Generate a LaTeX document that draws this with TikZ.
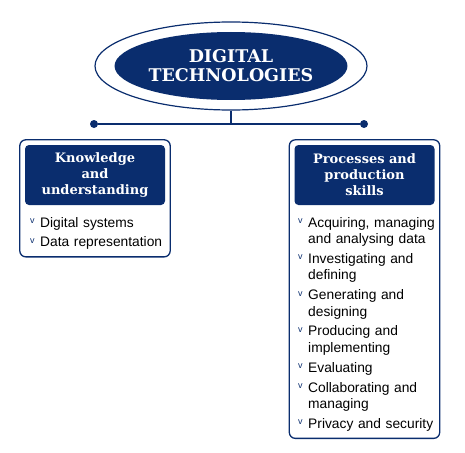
\documentclass[tikz,border=0pt]{standalone}
\usepackage{fontspec}
\setmainfont{Liberation Sans}
\newfontfamily\slabfont{DejaVu Serif}
\usetikzlibrary{shapes.geometric,positioning,fit}
\definecolor{navy}{RGB}{10,45,110}
\newcommand\chev{\raisebox{3.5pt}{\textcolor{navy}{\fontsize{9}{9}\selectfont v}}}
\newcommand\bul[1]{\par\noindent\hangindent=10pt\hangafter=1\makebox[10pt][l]{\chev}#1}

\begin{document}
\begin{tikzpicture}[x=1pt,y=-1pt,
  ring/.style={ellipse,draw=navy,line width=1.2pt,minimum width=272pt,minimum height=88pt},
  titlebox/.style={ellipse,fill=navy,text=white,minimum width=204pt,minimum height=68pt,
    inner sep=0pt,align=center,font=\slabfont\bfseries\fontsize{17.5}{19}\selectfont},
  head/.style={fill=navy,rounded corners=4pt,text=white,text width=130pt,inner xsep=5pt,
    minimum height=60pt,align=center,font=\slabfont\bfseries\fontsize{13}{16}\selectfont},
  items/.style={anchor=north west,text width=150pt,inner xsep=0pt,inner ysep=2pt,align=left,
    font=\fontsize{13.8}{16.5}\selectfont\setlength\parskip{3.3pt}},
  panel/.style={draw=navy,line width=1.3pt,rounded corners=6pt,inner sep=5pt},
  dot/.style={circle,fill=navy,inner sep=0pt,minimum size=8pt},
  link/.style={draw=navy,line width=1.2pt}]
\useasboundingbox (0,0) rectangle (465,452);
% title
\node[ring] (ring) at (231,66) {};
\node[titlebox] (title) at (ring) {DIGITAL\\TECHNOLOGIES};
\node[dot] (ldot) at (94,124) {};
\node[dot] (rdot) at (364,124) {};
\path[link] (ring.south) -- (ring.south |- ldot);
\path[link] (ldot) -- (rdot);
% left column
\node[head] (khead) at (95,175) {Knowledge\\and\\understanding};
\node[items] (klist) at (30,205) {\bul{Digital systems}\bul{Data representation}};
\node[panel,fit=(khead)(klist.south west)] (kbox) {};
% right column
\node[head] (phead) at (364.5,175) {Processes and\\production\\skills};
\node[items] (plist) at (298,205) {%
  \bul{Acquiring, managing\newline and analysing data}%
  \bul{Investigating and\newline defining}%
  \bul{Generating and\newline designing}%
  \bul{Producing and\newline implementing}%
  \bul{Evaluating}%
  \bul{Collaborating and\newline managing}%
  \bul{Privacy and security}};
\node[panel,fit=(phead)(plist.south west)] (pbox) {};
\end{tikzpicture}
\end{document}
